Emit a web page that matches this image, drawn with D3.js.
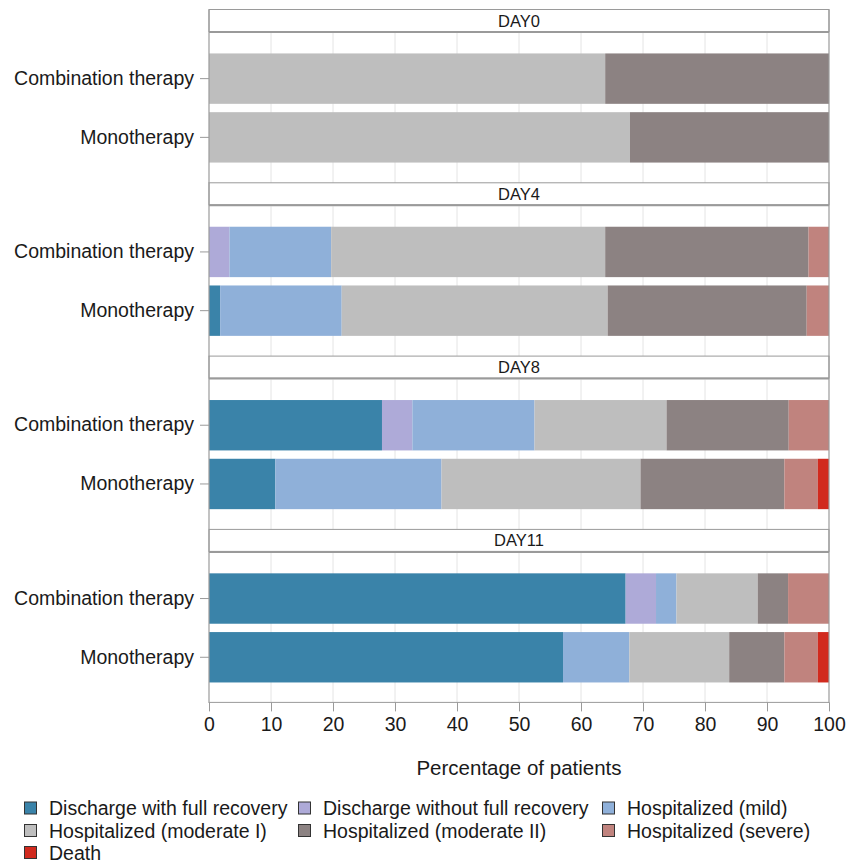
<!DOCTYPE html>
<html>
<head>
<meta charset="utf-8">
<script src="https://cdn.jsdelivr.net/npm/d3@7"></script>
<style>
  html, body { margin: 0; padding: 0; background: #fff; }
  svg { display: block; font-family: "Liberation Sans", Arial, Helvetica, sans-serif; }
</style>
</head>
<body>
<svg id="chart" width="849" height="864"></svg>
<script>
// Facets (study day) and rows (treatment arm)
const days = ["DAY0", "DAY4", "DAY8", "DAY11"];
const arms = ["Combination therapy", "Monotherapy"];

// Outcome categories, in stacking order
const outcomes = [
  "Discharge with full recovery",
  "Discharge without full recovery",
  "Hospitalized (mild)",
  "Hospitalized (moderate I)",
  "Hospitalized (moderate II)",
  "Hospitalized (severe)",
  "Death"
];
const outcomeColors = ["#3a83a9", "#aeaad8", "#8fb0d9", "#bebebe", "#8c8282", "#c0837e", "#d12a1e"];

// Percentage of patients per outcome; order of entries:
// DAY0 comb, DAY0 mono, DAY4 comb, DAY4 mono, DAY8 comb, DAY8 mono, DAY11 comb, DAY11 mono
const fullRecovery    = [0,    0,    0,    1.8,  27.9, 10.7, 67.2, 57.1];
const withoutRecovery = [0,    0,    3.3,  0,    4.9,  0,    4.9,  0];
const mild            = [0,    0,    16.4, 19.6, 19.7, 26.8, 3.3,  10.7];
const moderateI       = [63.9, 67.9, 44.2, 42.9, 21.3, 32.1, 13.1, 16.1];
const moderateII      = [36.1, 32.1, 32.8, 32.1, 19.7, 23.2, 4.9,  8.9];
const severe          = [0,    0,    3.3,  3.6,  6.5,  5.4,  6.6,  5.4];
const death           = [0,    0,    0,    0,    0,    1.8,  0,    1.8];

const xTicks = [0, 10, 20, 30, 40, 50, 60, 70, 80, 90, 100];

const seriesValues = [fullRecovery, withoutRecovery, mild, moderateI, moderateII, severe, death];

// Table of rows for the stack layout
const rows = [];
days.forEach((day, di) => {
  arms.forEach((arm, ai) => {
    const idx = di * arms.length + ai;
    const row = { day, arm };
    outcomes.forEach((o, oi) => { row[o] = seriesValues[oi][idx]; });
    rows.push(row);
  });
});

const stacked = d3.stack().keys(outcomes)(rows);

const svg = d3.select("#chart");
const left = 209, right = 829;
const x = d3.scaleLinear().domain([0, 100]).range([left, right]);
const color = d3.scaleOrdinal().domain(outcomes).range(outcomeColors);

const panelTop0 = 9.5, panelStep = 173.3, stripH = 22, bodyH = 150;
const frameColor = "#9a9a9a";
const gridColor = "#e4e4e4";
const textColor = "#1a1a1a";

const y = d3.scaleBand().domain(arms).range([0, bodyH]).paddingInner(0.142).paddingOuter(0.348);

days.forEach((day, di) => {
  const top = panelTop0 + di * panelStep;
  const bodyTop = top + stripH + 1.5;
  const g = svg.append("g");

  // panel body grid
  const body = g.append("g").attr("transform", `translate(0,${bodyTop})`);
  body.selectAll("line.grid")
    .data(xTicks.slice(1, -1))
    .join("line")
    .attr("x1", d => x(d)).attr("x2", d => x(d))
    .attr("y1", 0).attr("y2", bodyH)
    .attr("stroke", gridColor).attr("stroke-width", 1);

  // stacked bars for this day
  stacked.forEach(series => {
    body.selectAll(null)
      .data(series.filter(s => s.data.day === day && s[1] - s[0] > 0))
      .join("rect")
      .attr("x", s => x(s[0]))
      .attr("width", s => x(s[1]) - x(s[0]))
      .attr("y", s => y(s.data.arm))
      .attr("height", y.bandwidth())
      .attr("fill", color(series.key));
  });

  // y axis of this panel
  const yAxis = d3.axisLeft(y).tickSize(9).tickPadding(6);
  const ya = body.append("g").attr("transform", `translate(${left},0)`).call(yAxis);
  ya.select(".domain").remove();
  ya.selectAll(".tick line").attr("stroke", frameColor);
  ya.selectAll(".tick text").attr("fill", textColor).style("font-size", "19.5px")
    .style("font-family", "'Liberation Sans', Arial, sans-serif");

  // strip header
  g.append("rect")
    .attr("x", left).attr("y", top)
    .attr("width", right - left).attr("height", stripH)
    .attr("fill", "#fff").attr("stroke", frameColor).attr("stroke-width", 1);
  g.append("line")
    .attr("x1", left).attr("x2", right)
    .attr("y1", top + stripH + 0.5).attr("y2", top + stripH + 0.5)
    .attr("stroke", frameColor).attr("stroke-width", 2);
  g.append("text")
    .attr("x", (left + right) / 2).attr("y", top + stripH / 2 + 6)
    .attr("text-anchor", "middle")
    .attr("fill", textColor)
    .style("font-size", "16.5px")
    .text(day);

  // panel side borders
  g.append("line").attr("x1", left).attr("x2", left)
    .attr("y1", top).attr("y2", bodyTop + bodyH)
    .attr("stroke", frameColor).attr("stroke-width", 1.2);
  g.append("line").attr("x1", right).attr("x2", right)
    .attr("y1", top).attr("y2", bodyTop + bodyH)
    .attr("stroke", frameColor).attr("stroke-width", 1.2);
});

// x axis below the last panel
const axisY = panelTop0 + 3 * panelStep + stripH + 1.5 + bodyH - 0.5;
const xAxis = d3.axisBottom(x).tickValues(xTicks).tickSize(9).tickPadding(6).tickFormat(d3.format("d"));
const xa = svg.append("g").attr("transform", `translate(0,${axisY})`).call(xAxis);
xa.select(".domain").attr("stroke", frameColor).attr("d", `M${left},0H${right}`);
xa.selectAll(".tick line").attr("stroke", frameColor);
xa.selectAll(".tick text").attr("fill", textColor).style("font-size", "19.5px")
  .style("font-family", "'Liberation Sans', Arial, sans-serif");

svg.append("text")
  .attr("x", (left + right) / 2).attr("y", 775)
  .attr("text-anchor", "middle")
  .attr("fill", textColor)
  .style("font-size", "20.5px")
  .text("Percentage of patients");

// legend: three columns
const legendCols = [24, 298, 602];
const legendRows = [808, 830.5, 852.5];
const legend = svg.append("g");
outcomes.forEach((o, i) => {
  const cx = legendCols[i % 3], cy = legendRows[Math.floor(i / 3)];
  const item = legend.append("g").attr("transform", `translate(${cx},${cy})`);
  item.append("rect")
    .attr("x", 0.5).attr("y", -6).attr("width", 12).attr("height", 12)
    .attr("fill", color(o)).attr("stroke", "#333").attr("stroke-width", 1);
  item.append("text")
    .attr("x", 25).attr("y", 7)
    .attr("fill", textColor)
    .style("font-size", "19.5px")
    .text(o);
});
</script>
</body>
</html>
